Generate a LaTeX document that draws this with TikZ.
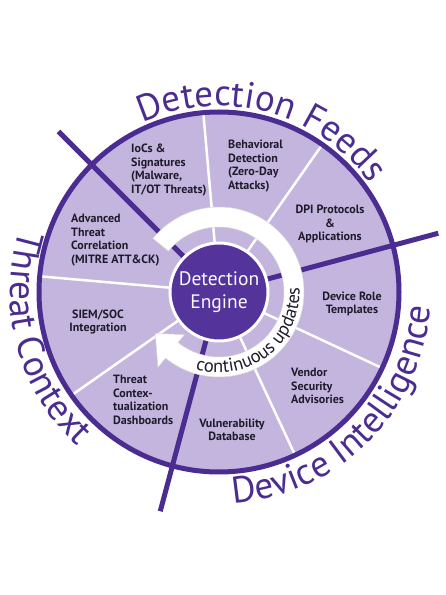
\documentclass[tikz,border=0pt]{standalone}
\usepackage{fontspec}
\setmainfont{PT Sans}
\usetikzlibrary{decorations.text}
\definecolor{lav}{HTML}{C3B5DD}
\definecolor{dpurple}{HTML}{4B2C91}
\definecolor{cfill}{HTML}{54339A}
\definecolor{tcol}{HTML}{4B2C91}
\definecolor{labtext}{HTML}{1E1B2B}
\newcommand{\bigtxt}{\fontsize{37}{37}\selectfont\color{tcol}}
\newcommand{\bandtxt}{\fontsize{18.5}{18.5}\selectfont\color{labtext}}
\tikzset{
  divider/.style={white, line width=2.5pt},
  bigline/.style={dpurple, line width=5pt},
  rim/.style={dpurple, line width=5pt},
  seglabel/.style={font=\bfseries\fontsize{12}{13.5}\selectfont, text=labtext, inner sep=0pt},
  hub/.style={circle, minimum size=98pt, fill=cfill, draw=white, line width=3pt,
     text=white!92!lav, font=\fontsize{19.5}{23}\selectfont, align=center, inner sep=0pt},
  curved/.style={decorate, decoration={text along path, text align=center}}
}
\begin{document}
\begin{tikzpicture}[x=1pt,y=1pt]
\useasboundingbox (0,0) rectangle (446,595);
\fill[white] (0,0) rectangle (446,595);
\begin{scope}[shift={(219,303)}]
\coordinate (C) at (0,0);
% disc
\fill[lav] (C) circle[radius=180];
% white dividers
\foreach \a in {95,55,-25,-65,175,215} \draw[divider] (\a:50) -- (\a:180);
% group dividers
\foreach \a in {135,15,-105} \draw[bigline] (\a:50) -- (\a:227);
% rim
\draw[rim] (C) circle[radius=180];
% band with arrow
\fill[white, draw=black!15, line width=0.5pt]
  (141:85) arc[start angle=141, end angle=-129, radius=85]
  -- (-129:97) -- (-147:76) -- (-129:55) -- (-129:65)
  arc[start angle=-129, end angle=141, radius=65] -- cycle;
\path[curved, decoration={text={|\bandtxt|continuous updates}}]
  (-112:80.5) arc[start angle=-112, end angle=8, radius=80.5];
% hub
\node[hub] (hub) at (C) {Detection\\Engine};
% outer labels
\path[curved, decoration={text={|\bigtxt|Detection Feeds}}]
  (135:186) arc[start angle=135, end angle=15, radius=186];
\path[curved, decoration={text={|\bigtxt|Device Intelligence}}]
  (-105:212) arc[start angle=-105, end angle=15, radius=212];
\path[curved, decoration={text={|\bigtxt|Threat Context}}]
  (135:209) arc[start angle=135, end angle=255, radius=209];
\end{scope}
% segment labels
\node[seglabel, anchor=west, align=left] (iocs) at (131,425) {IoCs \&\\Signatures\\(Malware,\\IT/OT Threats)};
\node[seglabel, anchor=west, align=left] (behav) at (228,429) {Behavioral\\Detection\\(Zero-Day\\Attacks)};
\node[seglabel, align=center] (dpi) at (330,371) {DPI Protocols\\\&\\Applications};
\node[seglabel, anchor=west, align=left] (adv) at (71,355) {Advanced\\Threat\\Correlation\\(MITRE ATT\&CK)};
\node[seglabel, align=center] (siem) at (98,273) {SIEM/SOC\\Integration};
\node[seglabel, anchor=west, align=left] (ctx) at (113,195) {Threat\\Contex-\\tualization\\Dashboards};
\node[seglabel, align=center] (vuln) at (232,165) {Vulnerability\\Database};
\node[seglabel, anchor=west, align=left] (vendor) at (291,209) {Vendor\\Security\\Advisories};
\node[seglabel, align=center] (role) at (352,291) {Device Role\\Templates};
\end{tikzpicture}
\end{document}
